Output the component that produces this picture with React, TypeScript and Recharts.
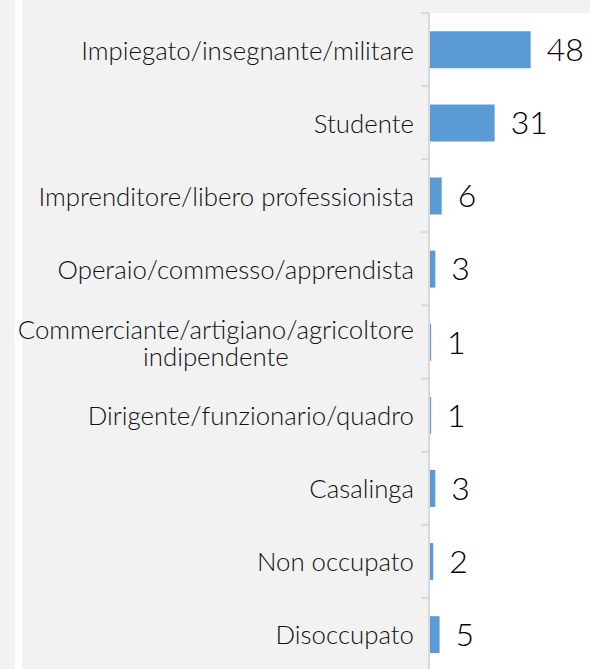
import React from 'react'
import { BarChart, Bar, XAxis, YAxis, LabelList } from 'recharts'

// Occupation categories (top to bottom) and their values
const CATEGORIES = [
  'Impiegato/insegnante/militare',
  'Studente',
  'Imprenditore/libero professionista',
  'Operaio/commesso/apprendista',
  'Commerciante/artigiano/agricoltore\nindipendente',
  'Dirigente/funzionario/quadro',
  'Casalinga',
  'Non occupato',
  'Disoccupato',
]
const VALUES = [48, 31, 6, 3, 1, 1, 3, 2, 5]

const FONT = 'Lato, "Open Sans", sans-serif'
const BAR_COLOR = '#5b9bd5'
const AXIS_COLOR = '#d9d9d9'
const PLOT_LEFT = 429
const PLOT_TOP = 13
const CHART_H = 671
const BAND = (CHART_H - PLOT_TOP) / CATEGORIES.length
const LABEL_SIZE = 25.8

let ctx: CanvasRenderingContext2D | null = null
function measure(text: string) {
  if (!ctx) ctx = document.createElement('canvas').getContext('2d')
  if (!ctx) return text.length * LABEL_SIZE * 0.45
  ctx.font = `300 ${LABEL_SIZE}px ${FONT}`
  return ctx.measureText(text).width
}

const CategoryTick = (props: any) => {
  const { y, payload } = props
  const lines = String(payload.value).split('\n')
  const right = PLOT_LEFT - 15
  const lineH = 27
  const boundary = y - BAND / 2
  let label
  if (lines.length === 1) {
    label = (
      <text x={right} y={y} textAnchor="end" dominantBaseline="central" fontSize={LABEL_SIZE} fontWeight={300} fill="#111" fontFamily={FONT}>
        {lines[0]}
      </text>
    )
  } else {
    const w = Math.max(...lines.map(measure))
    const cx = right - w / 2
    label = (
      <text x={cx} y={y} textAnchor="middle" fontSize={LABEL_SIZE} fontWeight={300} fill="#111" fontFamily={FONT}>
        {lines.map((l, i) => (
          <tspan key={i} x={cx} y={y + (i - (lines.length - 1) / 2) * lineH} dominantBaseline="central">
            {l}
          </tspan>
        ))}
      </text>
    )
  }
  return (
    <g>
      <line x1={PLOT_LEFT - 8} x2={PLOT_LEFT} y1={boundary} y2={boundary} stroke={AXIS_COLOR} strokeWidth={2} />
      {label}
    </g>
  )
}

export default function App() {
  const data = CATEGORIES.map((name, i) => ({ name, value: VALUES[i] }))
  return (
    <div
      style={{
        position: 'absolute',
        left: 0,
        top: 0,
        width: 590,
        height: 669,
        overflow: 'hidden',
        background: '#f2f2f2',
      }}
    >
      <div style={{ position: 'absolute', left: 15, top: 0, width: 7, height: 669, background: '#fff' }} />
      <div style={{ position: 'absolute', left: PLOT_LEFT, top: PLOT_TOP, width: 590 - PLOT_LEFT, height: 669, background: '#fff' }} />
      <div style={{ position: 'absolute', left: 0, top: 0 }}>
        <BarChart
          width={590}
          height={CHART_H}
          data={data}
          layout="vertical"
          margin={{ top: PLOT_TOP, right: 0, bottom: 0, left: 0 }}
          barCategoryGap="25%"
        >
          <XAxis type="number" domain={[0, 76]} hide />
          <YAxis
            type="category"
            dataKey="name"
            width={PLOT_LEFT}
            axisLine={{ stroke: AXIS_COLOR, strokeWidth: 2 }}
            tickLine={false}
            tick={<CategoryTick />}
            interval={0}
          />
          <Bar dataKey="value" fill={BAR_COLOR} isAnimationActive={false}>
            <LabelList dataKey="value" position="right" offset={16} fontSize={32} fontWeight={300} fill="#000" fontFamily={FONT} />
          </Bar>
        </BarChart>
      </div>
    </div>
  )
}
